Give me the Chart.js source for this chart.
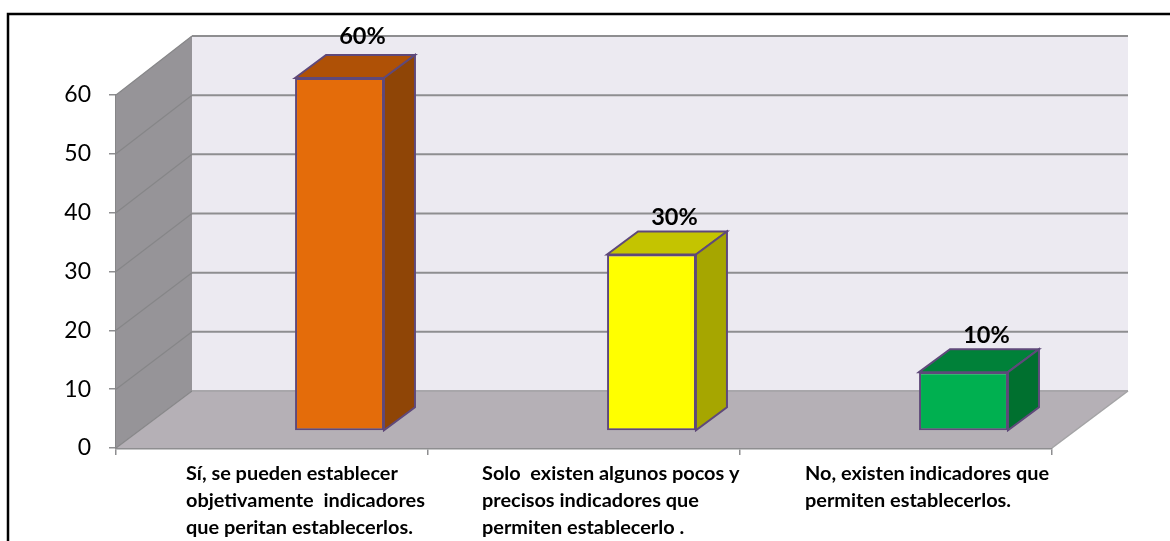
<!DOCTYPE html>
<html>
<head>
<meta charset="utf-8">
<style>
    html, body { margin: 0; padding: 0; background: #fff; }
    canvas { display: block; }
</style>
<script src="https://cdn.jsdelivr.net/npm/chart.js@4"></script>
</head>
<body>
<canvas id="chart" width="1170" height="541"></canvas>
<script>
const categories = [
    ['Sí, se pueden establecer', 'objetivamente  indicadores', 'que peritan establecerlos.'],
    ['Solo  existen algunos pocos y', 'precisos indicadores que', 'permiten establecerlo .'],
    ['No, existen indicadores que', 'permiten establecerlos.']
];
const values = [60, 30, 10];
const valueLabels = ['60%', '30%', '10%'];
const frontColors = ['#E46C0A', '#FFFF00', '#00B050'];
const topColors = ['#AF5106', '#C4C400', '#008139'];
const sideColors = ['#8F4506', '#A6A600', '#00702F'];

// how the flat chart plane maps to the fake 3d box
const FONT = 'Lato, Carlito, sans-serif';
const BAR_SHIFT_X = 67.5;
const BAR_SHIFT_Y = -17;
const BAR_DEPTH_X = 31;
const BAR_DEPTH_Y = -23;
const WALL_DEPTH_X = 76;
const LINE_COLOR = '#8E8E90';

function poly(ctx, points, fill, stroke, lineWidth) {
    ctx.beginPath();
    points.forEach((p, i) => i ? ctx.lineTo(p[0], p[1]) : ctx.moveTo(p[0], p[1]));
    ctx.closePath();
    if (fill) {
        ctx.fillStyle = fill;
        ctx.fill();
    }
    if (stroke) {
        ctx.strokeStyle = stroke;
        ctx.lineWidth = lineWidth;
        ctx.stroke();
    }
}

const boxPlugin = {
    id: 'box',
    beforeDatasetsDraw(chart) {
        const ctx = chart.ctx;
        const y = chart.scales.y;
        const a = chart.chartArea;
        const backY = v => 391 + (y.getPixelForValue(v) - a.bottom) * 355 / (a.bottom - a.top);
        const backLeft = a.left + WALL_DEPTH_X;
        const backRight = a.right + WALL_DEPTH_X;
        const top = backY(60);
        const floorY = backY(0);

        ctx.save();
        poly(ctx, [[backLeft, top], [backRight, top], [backRight, floorY], [backLeft, floorY]], '#ECEAF1');
        poly(ctx, [[a.left, a.top], [backLeft, top], [backLeft, floorY], [a.left, a.bottom]], '#969498');
        poly(ctx, [[a.left, a.bottom], [backLeft, floorY], [backRight, floorY], [a.right, a.bottom]], '#B5B0B6');

        y.ticks.forEach(t => {
            const fy = y.getPixelForValue(t.value);
            const by = backY(t.value);
            ctx.strokeStyle = '#868688';
            ctx.lineWidth = 1.2;
            ctx.beginPath();
            ctx.moveTo(a.left, fy);
            ctx.lineTo(backLeft, by);
            ctx.stroke();
            ctx.strokeStyle = t.value === 0 ? '#A8A6AA' : LINE_COLOR;
            ctx.lineWidth = 2;
            ctx.beginPath();
            ctx.moveTo(backLeft, by);
            ctx.lineTo(backRight, by);
            ctx.stroke();
        });

        // floor right edge
        ctx.strokeStyle = '#A3A3A5';
        ctx.lineWidth = 1.5;
        ctx.beginPath();
        ctx.moveTo(a.right, a.bottom);
        ctx.lineTo(backRight, floorY);
        ctx.stroke();
        ctx.restore();
    },
    beforeDatasetDraw(chart, args) {
        const ctx = chart.ctx;
        ctx.save();
        ctx.translate(BAR_SHIFT_X, BAR_SHIFT_Y);
        chart.getDatasetMeta(args.index).data.forEach((bar, i) => {
            const left = bar.x - bar.width / 2;
            const right = bar.x + bar.width / 2;
            const dx = BAR_DEPTH_X;
            const dy = BAR_DEPTH_Y;
            const border = chart.data.datasets[args.index].borderColor;
            poly(ctx, [[left, bar.y], [left + dx, bar.y + dy], [right + dx, bar.y + dy], [right, bar.y]], topColors[i], border, 2);
            poly(ctx, [[right, bar.y], [right + dx, bar.y + dy], [right + dx, bar.base + dy], [right, bar.base]], sideColors[i], border, 2);
        });
    },
    afterDatasetDraw(chart, args) {
        const ctx = chart.ctx;
        const labelLift = [19, 14, 14];
        ctx.fillStyle = '#000';
        ctx.font = 'bold 23.5px ' + FONT;
        ctx.textAlign = 'center';
        ctx.textBaseline = 'middle';
        chart.getDatasetMeta(args.index).data.forEach((bar, i) => {
            ctx.fillText(valueLabels[i], bar.x + 23, bar.y + BAR_DEPTH_Y - labelLift[i]);
        });
        ctx.restore();
    },
    afterDraw(chart) {
        const ctx = chart.ctx;
        const x = chart.scales.x;
        const labelShift = [-86, -102, -91];
        ctx.save();
        ctx.fillStyle = '#000';
        ctx.font = 'bold 19.9px ' + FONT;
        ctx.textAlign = 'left';
        ctx.textBaseline = 'middle';
        categories.forEach((lines, i) => {
            lines.forEach((line, j) => {
                ctx.fillText(line, x.getPixelForTick(i) + labelShift[i], 474 + j * 27);
            });
        });

        // outer frame, cut off by the picture on the right and bottom
        ctx.strokeStyle = '#000';
        ctx.lineWidth = 2.5;
        ctx.beginPath();
        ctx.moveTo(8, 541);
        ctx.lineTo(8, 14);
        ctx.lineTo(1170, 14);
        ctx.stroke();
        ctx.restore();
    }
};

new Chart(document.getElementById('chart'), {
    type: 'bar',
    plugins: [boxPlugin],
    data: {
        labels: categories.map(lines => lines.join(' ')),
        datasets: [{
            data: values,
            backgroundColor: frontColors,
            borderColor: '#5F497A',
            borderWidth: 2,
            borderSkipped: false,
            barPercentage: 0.285,
            categoryPercentage: 1,
            clip: false
        }]
    },
    options: {
        responsive: false,
        animation: false,
        layout: { padding: { top: 95, right: 118, bottom: 0, left: 0 } },
        plugins: {
            legend: { display: false },
            tooltip: { enabled: false }
        },
        scales: {
            x: {
                afterFit: scale => { scale.height = 93; },
                ticks: { display: false },
                grid: { offset: true, drawOnChartArea: false, tickLength: 7, color: LINE_COLOR, lineWidth: 1.5 },
                border: { color: LINE_COLOR, width: 2.5 }
            },
            y: {
                min: 0,
                max: 60,
                afterFit: scale => { scale.width = 116; },
                ticks: { stepSize: 10, color: '#000', padding: 18, font: { family: FONT, size: 23 } },
                grid: { drawOnChartArea: false, tickLength: 7, color: LINE_COLOR, lineWidth: 1.5 },
                border: { color: '#868688', width: 1.5 }
            }
        }
    }
});
</script>
</body>
</html>
